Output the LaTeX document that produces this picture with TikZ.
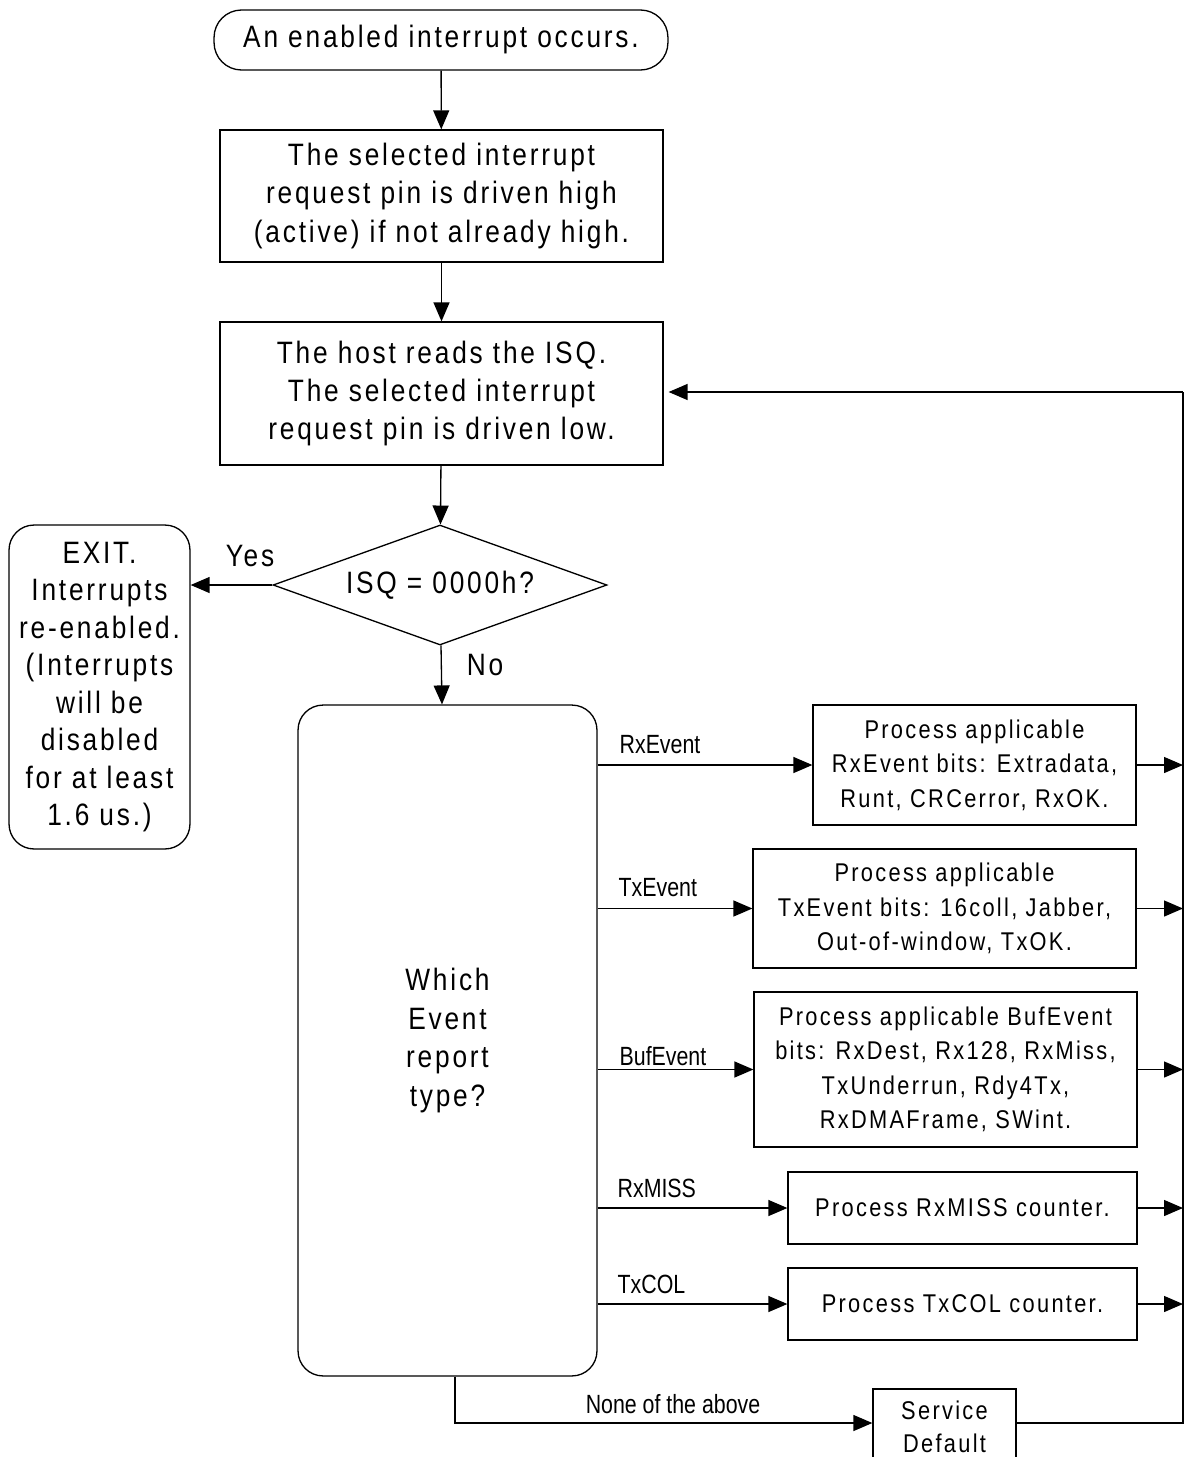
\documentclass[tikz,border=0pt]{standalone}
\usepackage{fontspec}
\setmainfont{Liberation Sans}[FakeStretch=0.85,LetterSpace=9]
\newfontfamily\lblfont{Liberation Sans}[FakeStretch=0.81]
\usetikzlibrary{shapes.geometric, arrows.meta, positioning, calc}

\begin{document}
\begin{tikzpicture}[x=0.02cm, y=-0.02cm, line width=0.75pt,
  >={Triangle[length=0.38cm,width=0.32cm]},
  box/.style={draw, align=center, inner sep=0pt, fill=white},
  bigtxt/.style={font=\fontsize{17.6}{21.9}\selectfont},
  smalltxt/.style={font=\fontsize{14.6}{19.6}\selectfont},
  lbl/.style={font=\lblfont\fontsize{15}{17}\selectfont, inner sep=0pt}]
\useasboundingbox (0,0) rectangle (1184,1457);
\node[box, bigtxt, rounded corners=0.55cm, minimum width=9.08cm, minimum height=1.2cm] (start) at (441,40) {An enabled interrupt occurs.};
\node[box, bigtxt, minimum width=8.86cm, minimum height=2.64cm] (pinhigh) at (441.5,196) {The selected interrupt\\request pin is driven high\\(active) if not already high.};
\node[box, bigtxt, minimum width=8.86cm, minimum height=2.86cm] (hostread) at (441.5,393.5) {The host reads the ISQ.\\The selected interrupt\\request pin is driven low.};
\node[box, bigtxt, diamond, aspect=2.78, minimum width=6.68cm, minimum height=2.4cm] (isq) at (440,585) {ISQ = 0000h?};
\node[box, font=\fontsize{17.6}{21.3}\selectfont, rounded corners=0.5cm, minimum width=3.62cm, minimum height=6.48cm] (exit) at (99.5,687) {EXIT.\\Interrupts\\re-enabled.\\(Interrupts\\will be\\disabled\\for at least\\1.6 us.)};
\node[box, bigtxt, rounded corners=0.5cm, minimum width=5.98cm, minimum height=13.42cm] (which) at (447.5,1040.5) {Which\\Event\\report\\type?};
\node[box, smalltxt, minimum width=6.46cm, minimum height=2.4cm] (rxev) at (974.5,765) {Process applicable\\RxEvent bits: Extradata,\\Runt, CRCerror, RxOK.};
\node[box, smalltxt, minimum width=7.66cm, minimum height=2.38cm] (txev) at (944.5,908.5) {Process applicable\\TxEvent bits: 16coll, Jabber,\\Out-of-window, TxOK.};
\node[box, smalltxt, minimum width=7.66cm, minimum height=3.1cm] (bufev) at (945.5,1069.5) {Process applicable BufEvent\\bits: RxDest, Rx128, RxMiss,\\TxUnderrun, Rdy4Tx,\\RxDMAFrame, SWint.};
\node[box, smalltxt, minimum width=6.98cm, minimum height=1.44cm] (rxmiss) at (962.5,1208) {Process RxMISS counter.};
\node[box, smalltxt, minimum width=6.98cm, minimum height=1.44cm] (txcol) at (962.5,1304) {Process TxCOL counter.};
\node[box, font=\fontsize{14.6}{18.7}\selectfont, minimum width=2.86cm, minimum height=1.52cm] (svcdef) at (944.5,1427) {Service\\Default};
\node[bigtxt] (yes) at (250,556) {Yes};
\node[bigtxt] (no) at (485,665) {No};
\node[lbl, anchor=west] (rxevlbl) at (619,745) {RxEvent};
\node[lbl, anchor=west] (txevlbl) at (618,888) {TxEvent};
\node[lbl, anchor=west] (bufevlbl) at (619,1056) {BufEvent};
\node[lbl, anchor=west] (rxmisslbl) at (617,1188) {RxMISS};
\node[lbl, anchor=west] (txcollbl) at (617,1284) {TxCOL};
\node[lbl] (nonelbl) at (673,1404) {None of the above};
\coordinate (turn) at (455,1423);
\coordinate (busbot) at (1183,1423);
\coordinate (bustop) at (1183,392);
\draw[->] (start) -- (pinhigh);
\draw[->] (pinhigh) -- (hostread);
\draw[->] (hostread) -- (isq);
\draw[->] (isq.west) -- (isq.west -| exit.east);
\draw[->] (isq) -- (which);
\draw[->] (which.east |- rxev.west) -- (rxev.west);
\draw[->] (which.east |- txev.west) -- (txev.west);
\draw[->] (which.east |- bufev.west) -- (bufev.west);
\draw[->] (which.east |- rxmiss.west) -- (rxmiss.west);
\draw[->] (which.east |- txcol.west) -- (txcol.west);
\draw[->] (which.south -| turn) -- (turn) -- (svcdef.west |- turn);
\draw[->] (rxev.east) -- (rxev.east -| bustop);
\draw[->] (txev.east) -- (txev.east -| bustop);
\draw[->] (bufev.east) -- (bufev.east -| bustop);
\draw[->] (rxmiss.east) -- (rxmiss.east -| bustop);
\draw[->] (txcol.east) -- (txcol.east -| bustop);
\draw (svcdef.east |- busbot) -- (busbot) -- (bustop);
\draw[->, shorten >=0.1cm] (bustop) -- (bustop -| hostread.east);
\end{tikzpicture}
\end{document}
